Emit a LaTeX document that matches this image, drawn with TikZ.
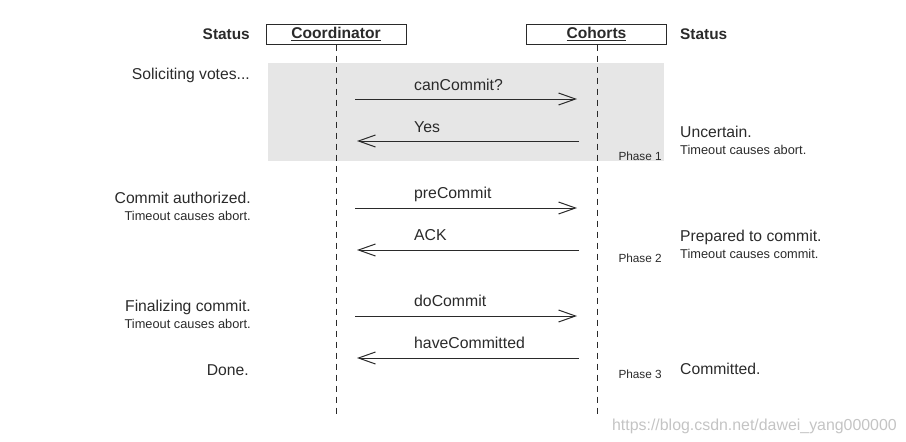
\documentclass[tikz,border=0pt]{standalone}
\usepackage{fontspec}
\setmainfont{Liberation Sans}
\usetikzlibrary{arrows.meta}
\definecolor{ink}{HTML}{2A2A2A}
\definecolor{graybg}{HTML}{E6E6E6}
\definecolor{wmark}{HTML}{C4C4C4}
\tikzset{
  head/.style={draw=ink, line width=1pt, minimum width=140pt, minimum height=20pt, inner sep=0pt,
    font=\fontsize{15.6}{17}\selectfont\bfseries, text=ink},
  stat/.style={font=\fontsize{15.4}{17}\selectfont\bfseries, text=ink, inner sep=0pt},
  life/.style={draw=ink, line width=0.9pt, dash pattern=on 6pt off 5pt},
  msg/.style={draw=ink, line width=1pt, -{Straight Barb[length=17pt,width=12pt,line width=1pt]}},
  mlab/.style={font=\fontsize{15.8}{17}\selectfont, text=ink, anchor=base west, inner sep=0pt},
  big/.style={font=\fontsize{15.7}{17}\selectfont, text=ink, inner sep=0pt},
  small/.style={font=\fontsize{12.8}{14}\selectfont, text=ink, inner sep=0pt},
  phase/.style={font=\fontsize{11.8}{13}\selectfont, text=ink, anchor=base east, inner sep=0pt},
}
\begin{document}
\begin{tikzpicture}[x=1pt,y=-1pt]
\useasboundingbox (0,0) rectangle (906,442);
% shaded phase-1 region
\fill[graybg] (268,63) rectangle (664,161);
% headers
\node[head] (coord) at (336,34) {\underline{Coordinator}};
\node[head] (coh) at (596.5,34) {\underline{Cohorts}};
\node[stat, anchor=east] (sl) at (250,34) {Status};
\node[stat, anchor=west] (sr) at (680,34) {Status};
% lifelines
\coordinate (cend) at (336,418);
\coordinate (hend) at (597,418);
\draw[life] (coord.south) -- (cend);
\draw[life] (coh.south -| hend) -- (hend);
% message anchor points
\coordinate (c1) at (355,99);  \coordinate (h1) at (577,99);
\coordinate (c2) at (357,141); \coordinate (h2) at (579,141);
\coordinate (c3) at (355,208); \coordinate (h3) at (577,208);
\coordinate (c4) at (357,250); \coordinate (h4) at (579,250);
\coordinate (c5) at (355,316); \coordinate (h5) at (577,316);
\coordinate (c6) at (357,358); \coordinate (h6) at (579,358);
\draw[msg] (c1) -- (h1);
\draw[msg] (h2) -- (c2);
\draw[msg] (c3) -- (h3);
\draw[msg] (h4) -- (c4);
\draw[msg] (c5) -- (h5);
\draw[msg] (h6) -- (c6);
\node[mlab] (m1) at (414,90) {canCommit?};
\node[mlab] (m2) at (414,132) {Yes};
\node[mlab] (m3) at (414,198) {preCommit};
\node[mlab] (m4) at (414,240) {ACK};
\node[mlab] (m5) at (414,306) {doCommit};
\node[mlab] (m6) at (414,348) {haveCommitted};
% phases
\node[phase] (p1) at (662,160) {Phase 1};
\node[phase] (p2) at (662,262) {Phase 2};
\node[phase] (p3) at (662,378) {Phase 3};
% left statuses
\node[big, anchor=base east] (l1) at (250,79) {Soliciting votes...};
\node[big, anchor=base east] (l2) at (251,203) {Commit authorized.};
\node[small, anchor=base east] (l2b) at (251,220) {Timeout causes abort.};
\node[big, anchor=base east] (l3) at (251,311) {Finalizing commit.};
\node[small, anchor=base east] (l3b) at (251,328) {Timeout causes abort.};
\node[big, anchor=base east] (l4) at (249,375) {Done.};
% right statuses
\node[big, anchor=base west] (r1) at (680,137) {Uncertain.};
\node[small, anchor=base west] (r1b) at (680,154) {Timeout causes abort.};
\node[big, anchor=base west] (r2) at (680,241) {Prepared to commit.};
\node[small, anchor=base west] (r2b) at (680,258) {Timeout causes commit.};
\node[big, anchor=base west] (r3) at (680,374) {Committed.};
% watermark
\node[font=\fontsize{15.9}{17}\selectfont, text=wmark, anchor=base east, inner sep=0pt] (wm) at (897,430) {https://blog.csdn.net/dawei\_yang000000};
\end{tikzpicture}
\end{document}
